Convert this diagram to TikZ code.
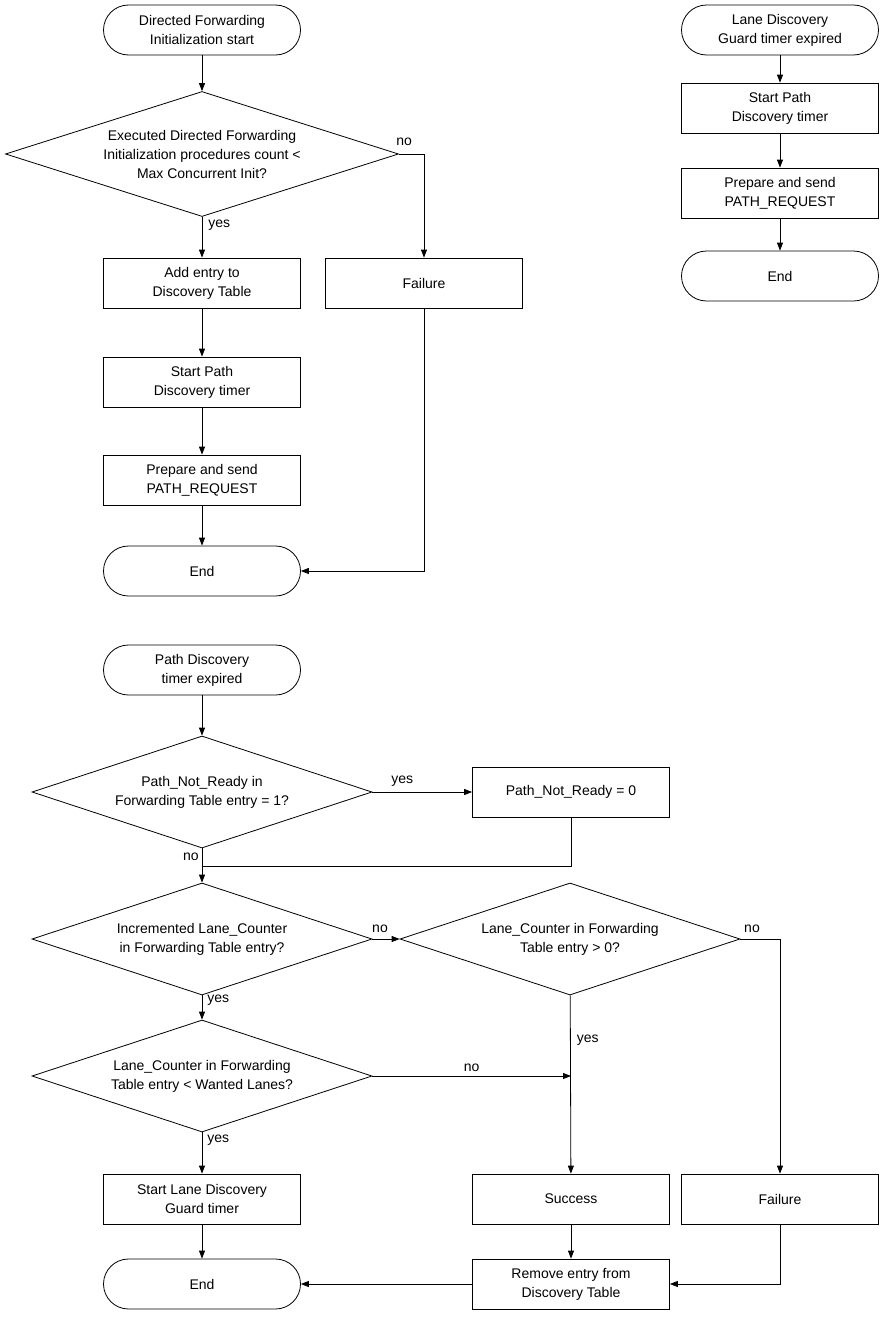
\documentclass[tikz,border=0pt]{standalone}
\usepackage{fontspec}
\setmainfont{Liberation Sans}
\usetikzlibrary{shapes.geometric,arrows.meta}
\begin{document}
\begin{tikzpicture}[x=1pt,y=-1pt,
  every node/.style={font=\fontsize{14}{19}\selectfont,align=center,inner sep=0},
  box/.style={draw,minimum width=197,minimum height=50},
  term/.style={draw,rounded corners=25,minimum width=197,minimum height=50},
  dia/.style={draw,diamond,aspect=3.1,minimum width=340,minimum height=112},
  lab/.style={anchor=south west},
  ar/.style={-{Triangle[length=8,width=6]}},
  line width=0.8]
\useasboundingbox (0,0) rectangle (885,1317);
% top-left
\node[term] (s1) at (202,30) {Directed Forwarding\\Initialization start};
\node[draw,diamond,aspect=3.15,minimum width=393,minimum height=125] (d1) at (202,154) {Executed Directed Forwarding\\Initialization procedures count <\\Max Concurrent Init?};
\node[box] (a1) at (202,283) {Add entry to\\Discovery Table};
\node[box] (f1) at (424,283) {Failure};
\node[box] (p1) at (202,382) {Start Path\\Discovery timer};
\node[box] (q1) at (202,480) {Prepare and send\\PATH\_REQUEST};
\node[term] (e1) at (202,571) {End};
\draw[ar] (s1) -- (d1);
\draw[ar] (d1) -- (a1) node[pos=0.2,right=6,anchor=west] {yes};
\draw[ar] (d1.east) -- (424,154) -- (f1) ;
\node[anchor=west] (n1) at (396,142) {no};
\draw[ar] (a1) -- (p1);
\draw[ar] (p1) -- (q1);
\draw[ar] (q1) -- (e1);
\draw[ar] (f1) -- (424,571) -- (e1);
% top-right
\node[term] (s2) at (780,30) {Lane Discovery\\Guard timer expired};
\node[box] (p2) at (780,108) {Start Path\\Discovery timer};
\node[box] (q2) at (780,193) {Prepare and send\\PATH\_REQUEST};
\node[term] (e2) at (780,276) {End};
\draw[ar] (s2) -- (p2);
\draw[ar] (p2) -- (q2);
\draw[ar] (q2) -- (e2);
% bottom
\node[term] (s3) at (202,670) {Path Discovery\\timer expired};
\node[dia] (d2) at (202,792) {Path\_Not\_Ready in\\Forwarding Table entry = 1?};
\node[box] (b2) at (571,792) {Path\_Not\_Ready = 0};
\node[dia] (d3) at (202,939) {Incremented Lane\_Counter\\in Forwarding Table entry?};
\node[dia] (d4) at (570,939) {Lane\_Counter in Forwarding\\Table entry > 0?};
\node[dia] (d5) at (202,1076) {Lane\_Counter in Forwarding\\Table entry < Wanted Lanes?};
\node[box] (g) at (202,1199) {Start Lane Discovery\\Guard timer};
\node[box] (sc) at (571,1199) {Success};
\node[box] (f2) at (780,1199) {Failure};
\node[term] (e3) at (202,1284) {End};
\node[box] (r) at (571,1284) {Remove entry from\\Discovery Table};
\coordinate (j1) at (202,866);
\draw[ar] (s3) -- (d2);
\draw[ar] (d2) -- (b2) node[pos=0.3,above=5] {yes};
\draw (d2) -- (j1) node[pos=0.5,left=3] {no};
\draw[ar] (b2) -- (571,866) -- (j1) -- (d3);
\draw[ar] (d3) -- (d4);
\node (n3) at (380,929) {no};
\draw[ar] (d3) -- (d5) node[pos=0.2,right=5] {yes};
\draw[ar] (d5) -- (g) node[pos=0.2,right=5] {yes};
\coordinate (j2) at (571,1076);
\draw[ar] (d5.east) -- (j2) node[midway,above=4] {no};
\draw[ar] (d4) -- (sc) node[pos=0.25,right=6] {yes};
\draw[ar] (d4.east) -- (780,939) -- (f2);
\node (n4) at (752,929) {no};
\draw[ar] (g) -- (e3);
\draw[ar] (sc) -- (r);
\draw[ar] (f2) -- (780,1284) -- (r);
\draw[ar] (r) -- (e3);
\end{tikzpicture}
\end{document}
